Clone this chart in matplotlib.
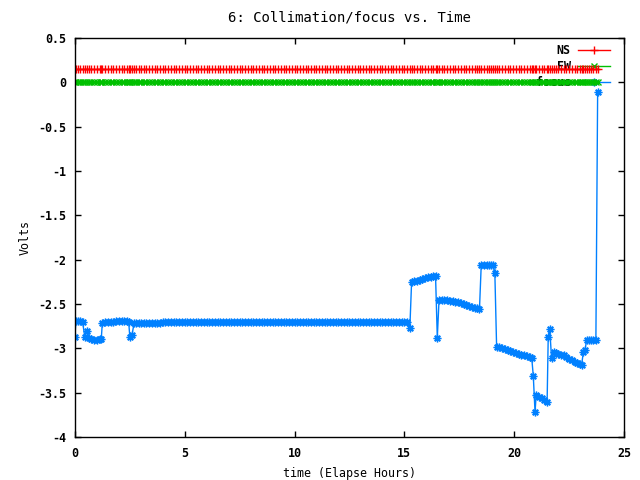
import matplotlib
matplotlib.use("Agg")
import matplotlib.pyplot as plt
from matplotlib.ticker import FormatStrFormatter

# elapsed hours of each sample (one row per hour)
hours = [
    0.0, 0.05, 0.15, 0.25, 0.35, 0.45, 0.55, 0.65, 0.75, 0.875,
    1.0, 1.125, 1.2, 1.25, 1.375, 1.5, 1.625, 1.75, 1.875,
    2.0, 2.125, 2.25, 2.375, 2.45, 2.5, 2.6, 2.7, 2.8, 2.9,
    3.0, 3.125, 3.25, 3.375, 3.5, 3.625, 3.75, 3.875,
    4.0, 4.125, 4.25, 4.375, 4.5, 4.625, 4.75, 4.875,
    5.0, 5.125, 5.25, 5.375, 5.5, 5.625, 5.75, 5.875,
    6.0, 6.125, 6.25, 6.375, 6.5, 6.625, 6.75, 6.875,
    7.0, 7.125, 7.25, 7.375, 7.5, 7.625, 7.75, 7.875,
    8.0, 8.125, 8.25, 8.375, 8.5, 8.625, 8.75, 8.875,
    9.0, 9.125, 9.25, 9.375, 9.5, 9.625, 9.75, 9.875,
    10.0, 10.125, 10.25, 10.375, 10.5, 10.625, 10.75, 10.875,
    11.0, 11.125, 11.25, 11.375, 11.5, 11.625, 11.75, 11.875,
    12.0, 12.125, 12.25, 12.375, 12.5, 12.625, 12.75, 12.875,
    13.0, 13.125, 13.25, 13.375, 13.5, 13.625, 13.75, 13.875,
    14.0, 14.125, 14.25, 14.375, 14.5, 14.625, 14.75, 14.875,
    15.0, 15.125, 15.25, 15.33, 15.45, 15.575, 15.7, 15.825, 15.95,
    16.075, 16.2, 16.325, 16.42, 16.5, 16.58, 16.7, 16.825, 16.95,
    17.075, 17.2, 17.325, 17.45, 17.575, 17.7, 17.825, 17.95,
    18.075, 18.2, 18.325, 18.42, 18.5, 18.625, 18.75, 18.875, 18.95,
    19.05, 19.12, 19.2, 19.325, 19.45, 19.575, 19.7, 19.825, 19.95,
    20.075, 20.2, 20.325, 20.45, 20.575, 20.7, 20.8, 20.87, 20.95,
    21.0, 21.125, 21.25, 21.375, 21.5, 21.55, 21.62, 21.7, 21.8, 21.9,
    22.0, 22.125, 22.25, 22.375, 22.5, 22.625, 22.75, 22.875,
    23.0, 23.07, 23.15, 23.22, 23.3, 23.4, 23.5, 23.6, 23.72, 23.8,
]

focus = [
    -2.87, -2.69, -2.69, -2.69, -2.70, -2.87, -2.80, -2.88, -2.90, -2.91,
    -2.91, -2.90, -2.90, -2.71, -2.70, -2.70, -2.70, -2.70, -2.69,
    -2.69, -2.69, -2.69, -2.69, -2.70, -2.87, -2.85, -2.71, -2.71, -2.71,
    -2.71, -2.71, -2.71, -2.71, -2.71, -2.71, -2.71, -2.71,
    -2.70, -2.70, -2.70, -2.70, -2.70, -2.70, -2.70, -2.70,
    -2.70, -2.70, -2.70, -2.70, -2.70, -2.70, -2.70, -2.70,
    -2.70, -2.70, -2.70, -2.70, -2.70, -2.70, -2.70, -2.70,
    -2.70, -2.70, -2.70, -2.70, -2.70, -2.70, -2.70, -2.70,
    -2.70, -2.70, -2.70, -2.70, -2.70, -2.70, -2.70, -2.70,
    -2.70, -2.70, -2.70, -2.70, -2.70, -2.70, -2.70, -2.70,
    -2.70, -2.70, -2.70, -2.70, -2.70, -2.70, -2.70, -2.70,
    -2.70, -2.70, -2.70, -2.70, -2.70, -2.70, -2.70, -2.70,
    -2.70, -2.70, -2.70, -2.70, -2.70, -2.70, -2.70, -2.70,
    -2.70, -2.70, -2.70, -2.70, -2.70, -2.70, -2.70, -2.70,
    -2.70, -2.70, -2.70, -2.70, -2.70, -2.70, -2.70, -2.70,
    -2.70, -2.70, -2.77, -2.25, -2.24, -2.235, -2.23, -2.22, -2.21,
    -2.20, -2.19, -2.185, -2.18, -2.88, -2.45, -2.455, -2.46, -2.46,
    -2.465, -2.47, -2.475, -2.48, -2.49, -2.50, -2.51, -2.52,
    -2.53, -2.54, -2.55, -2.56, -2.06, -2.06, -2.06, -2.06, -2.06,
    -2.06, -2.15, -2.98, -2.99, -3.00, -3.01, -3.02, -3.03, -3.04,
    -3.05, -3.06, -3.07, -3.08, -3.09, -3.10, -3.11, -3.31, -3.72,
    -3.53, -3.55, -3.56, -3.58, -3.60, -2.87, -2.78, -3.11, -3.04, -3.05,
    -3.06, -3.07, -3.08, -3.10, -3.12, -3.13, -3.15, -3.16,
    -3.18, -3.19, -3.04, -3.02, -2.91, -2.91, -2.91, -2.91, -2.91, -0.11,
]

# NS and EW collimation stay flat for the whole run
ns = [0.15] * len(hours)
ew = [0.0] * len(hours)

yticks = [0.5, 0, -0.5, -1, -1.5, -2, -2.5, -3, -3.5, -4]
xticks = [0, 5, 10, 15, 20, 25]

plt.rcParams['font.family'] = ['DejaVu Sans Mono']
plt.rcParams['font.weight'] = 'bold'
plt.rcParams['font.size'] = 8.4

fig = plt.figure(figsize=(6.4, 4.8), dpi=100)
ax = fig.add_axes([0.117, 0.0896, 0.858, 0.8312])

ax.plot(hours, ns, color='#ff0000', lw=1, marker='+', ms=6, mew=1, label='NS')
ax.plot(hours, ew, color='#00c000', lw=1, marker='x', ms=5, mew=1, label='EW')
ax.plot(hours, focus, color='#0080ff', lw=1, marker=(8, 2, 0), ms=5.5, mew=1,
        label='focus')

ax.set_xlim(0, 25)
ax.set_ylim(-4, 0.5)
ax.set_xticks(xticks)
ax.set_yticks(yticks)
ax.yaxis.set_major_formatter(FormatStrFormatter('%g'))
ax.tick_params(direction='in', top=True, right=True, length=4.5, width=1,
               pad=7)
ax.tick_params(axis='y', pad=6)
for s in ax.spines.values():
    s.set_linewidth(1)

ax.set_title('6: Collimation/focus vs. Time', pad=12)
ax.set_xlabel('time (Elapse Hours)', labelpad=5)
ax.set_ylabel('Volts', labelpad=5)

leg = ax.legend(loc='upper right', markerfirst=False, frameon=False,
                handlelength=2.8, handletextpad=0.6, labelspacing=0.25,
                borderpad=0, borderaxespad=0,
                bbox_to_anchor=(0.975, 0.985))
leg.set_zorder(1)

fig.savefig('out.png', dpi=100)
